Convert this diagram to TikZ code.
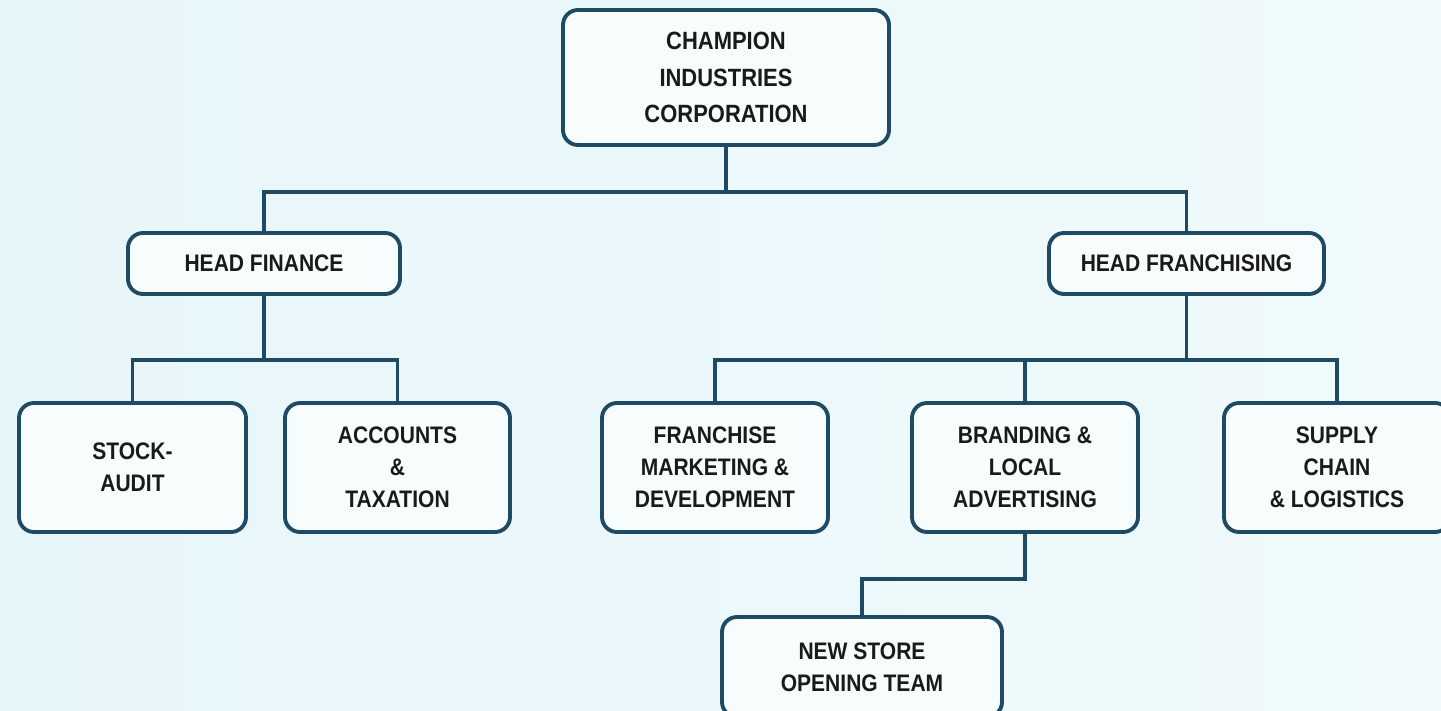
\documentclass[tikz,border=0pt]{standalone}
\usepackage{fontspec}
\newfontfamily\orgfont{Liberation Sans}[FakeStretch=0.88]
\definecolor{bgcyan}{HTML}{E7F6FA}
\definecolor{bglight}{HTML}{F0FAFC}
\definecolor{boxfill}{HTML}{F7FCFD}
\definecolor{boxline}{HTML}{1F4A63}
\definecolor{labeltext}{HTML}{1A1A1A}
\begin{document}
\begin{tikzpicture}
    [
    box/.style={draw=boxline,fill=boxfill,line width=1.1pt,rounded corners=0.15cm,
      inner sep=0pt,align=center,text=labeltext,font=\orgfont\bfseries\fontsize{6.8}{9.1}\selectfont},
    link/.style={draw=boxline,line width=0.9pt}
    ]
    \useasboundingbox (0,0) rectangle (14.41,-7.11);
    \clip (0,0) rectangle (14.41,-7.11);
    \shade [left color=bgcyan,right color=bglight] (0,0) rectangle (14.41,-7.11);
    \node (top) at (7.26,-0.775) [box,minimum width=3.26cm,minimum height=1.35cm,
      font=\orgfont\bfseries\fontsize{7.1}{10.5}\selectfont] {CHAMPION\\INDUSTRIES\\CORPORATION};
    \node (hfin) at (2.64,-2.635) [box,minimum width=2.72cm,minimum height=0.61cm] {HEAD FINANCE};
    \node (hfr) at (11.865,-2.635) [box,minimum width=2.75cm,minimum height=0.61cm] {HEAD FRANCHISING};
    \node (stock) at (1.325,-4.675) [box,minimum width=2.27cm,minimum height=1.29cm] {STOCK-\\AUDIT};
    \node (acct) at (3.975,-4.675) [box,minimum width=2.25cm,minimum height=1.29cm] {ACCOUNTS\\\&\\TAXATION};
    \node (fmd) at (7.15,-4.675) [box,minimum width=2.26cm,minimum height=1.29cm] {FRANCHISE\\MARKETING \&\\DEVELOPMENT};
    \node (brand) at (10.25,-4.675) [box,minimum width=2.26cm,minimum height=1.29cm] {BRANDING \&\\LOCAL\\ADVERTISING};
    \node (supply) at (13.37,-4.675) [box,minimum width=2.26cm,minimum height=1.29cm] {SUPPLY\\CHAIN\\\& LOGISTICS};
    \node (store) at (8.62,-6.67) [box,minimum width=2.8cm,minimum height=1.0cm] {NEW STORE\\OPENING TEAM};
    \draw [link] (top.south) -- ++(0,-0.45) -| (hfin.north);
    \draw [link] (top.south) -- ++(0,-0.45) -| (hfr.north);
    \draw [link] (hfin.south) -- ++(0,-0.64) -| (stock.north);
    \draw [link] (hfin.south) -- ++(0,-0.64) -| (acct.north);
    \draw [link] (hfr.south) -- ++(0,-0.64) -| (fmd.north);
    \draw [link] (hfr.south) -- ++(0,-0.64) -| (brand.north);
    \draw [link] (hfr.south) -- ++(0,-0.64) -| (supply.north);
    \draw [link] (brand.south) -- ++(0,-0.45) -| (store.north);
  \end{tikzpicture}
\end{document}
